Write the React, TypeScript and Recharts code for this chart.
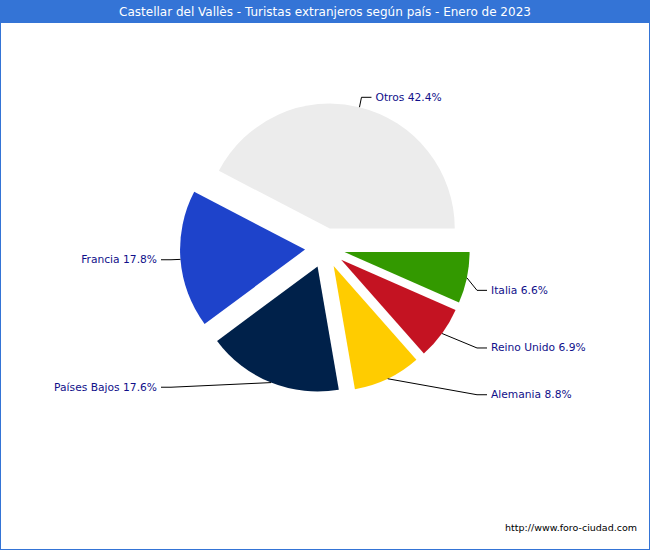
import React from 'react';
import { PieChart, Pie, Cell, Sector } from 'recharts';

const countries = ['Otros', 'Francia', 'Países Bajos', 'Alemania', 'Reino Unido', 'Italia'];
const shares = [42.4, 17.8, 17.6, 8.8, 6.9, 6.6];
const colors = ['#ececec', '#1e43cb', '#00214a', '#ffcc00', '#c41322', '#339900'];

const data = countries.map((name, i) => ({ name, value: shares[i] }));

const RAD = Math.PI / 180;
const EXPLODE = 20;
const FONT = '"DejaVu Sans", Verdana, sans-serif';

const ExplodedSector = (props: any) => {
  const { cx, cy, midAngle } = props;
  const dx = EXPLODE * Math.cos(-midAngle * RAD);
  const dy = EXPLODE * Math.sin(-midAngle * RAD);
  return <Sector {...props} cx={cx + dx} cy={cy + dy} stroke="none" />;
};

const renderLabel = (p: any) => {
  const { cx, cy, midAngle, outerRadius, index } = p;
  const c = Math.cos(-midAngle * RAD);
  const s = Math.sin(-midAngle * RAD);
  const ax = cx + (outerRadius + EXPLODE) * c;
  const ay = cy + (outerRadius + EXPLODE) * s;
  const right = c >= 0;
  const ly = cy + outerRadius * 1.2 * s + (right ? (s > 0 ? 11.5 : -5) : 0);
  let tx: number;
  if (ly < cy - outerRadius * 0.5) tx = right ? ax + 16 : ax - 16;
  else tx = right ? cx + outerRadius * 1.328 : cx - outerRadius * 1.344;
  const dir = right ? 1 : -1;
  const ex = tx - dir * 14;
  const fx = tx - dir * 4;
  return (
    <g key={`lbl-${index}`}>
      <polyline
        points={`${ax},${ay} ${ex},${ly} ${fx},${ly}`}
        fill="none"
        stroke="#000"
        strokeWidth={1}
      />
      <text
        x={tx}
        y={ly}
        textAnchor={right ? 'start' : 'end'}
        dominantBaseline="central"
        fill="#10108a"
        fontSize={10.7}
        fontFamily={FONT}
      >
        {`${countries[index]} ${shares[index].toFixed(1)}%`}
      </text>
    </g>
  );
};

export default function App() {
  return (
    <div
      style={{
        position: 'absolute',
        left: 0,
        top: 0,
        width: 650,
        height: 550,
        boxSizing: 'border-box',
        border: '1px solid #3474d6',
        background: '#fff',
        fontFamily: FONT,
      }}
    >
      <div
        style={{
          position: 'absolute',
          left: 0,
          top: 0,
          width: 648,
          height: 22,
          background: '#3474d6',
          color: '#fff',
          fontSize: 12,
          lineHeight: '22px',
          textAlign: 'center',
        }}
      >
        Castellar del Vallès - Turistas extranjeros según país - Enero de 2023
      </div>
      <div style={{ position: 'absolute', left: -1, top: -1 }}>
        <PieChart width={650} height={550} margin={{ top: 0, right: 0, bottom: 0, left: 0 }}>
          <Pie
            data={data}
            dataKey="value"
            nameKey="name"
            cx={325}
            cy={248}
            outerRadius={125}
            startAngle={0}
            endAngle={360}
            stroke="none"
            shape={ExplodedSector}
            label={renderLabel}
            labelLine={false}
            isAnimationActive={false}
          >
            {data.map((d, i) => (
              <Cell key={d.name} fill={colors[i]} />
            ))}
          </Pie>
        </PieChart>
      </div>
      <div
        style={{
          position: 'absolute',
          right: 12,
          top: 521,
          fontSize: 9.5,
          color: '#000',
          fontFamily: '"DejaVu Sans", Tahoma, sans-serif',
        }}
      >
        http://www.foro-ciudad.com
      </div>
    </div>
  );
}
